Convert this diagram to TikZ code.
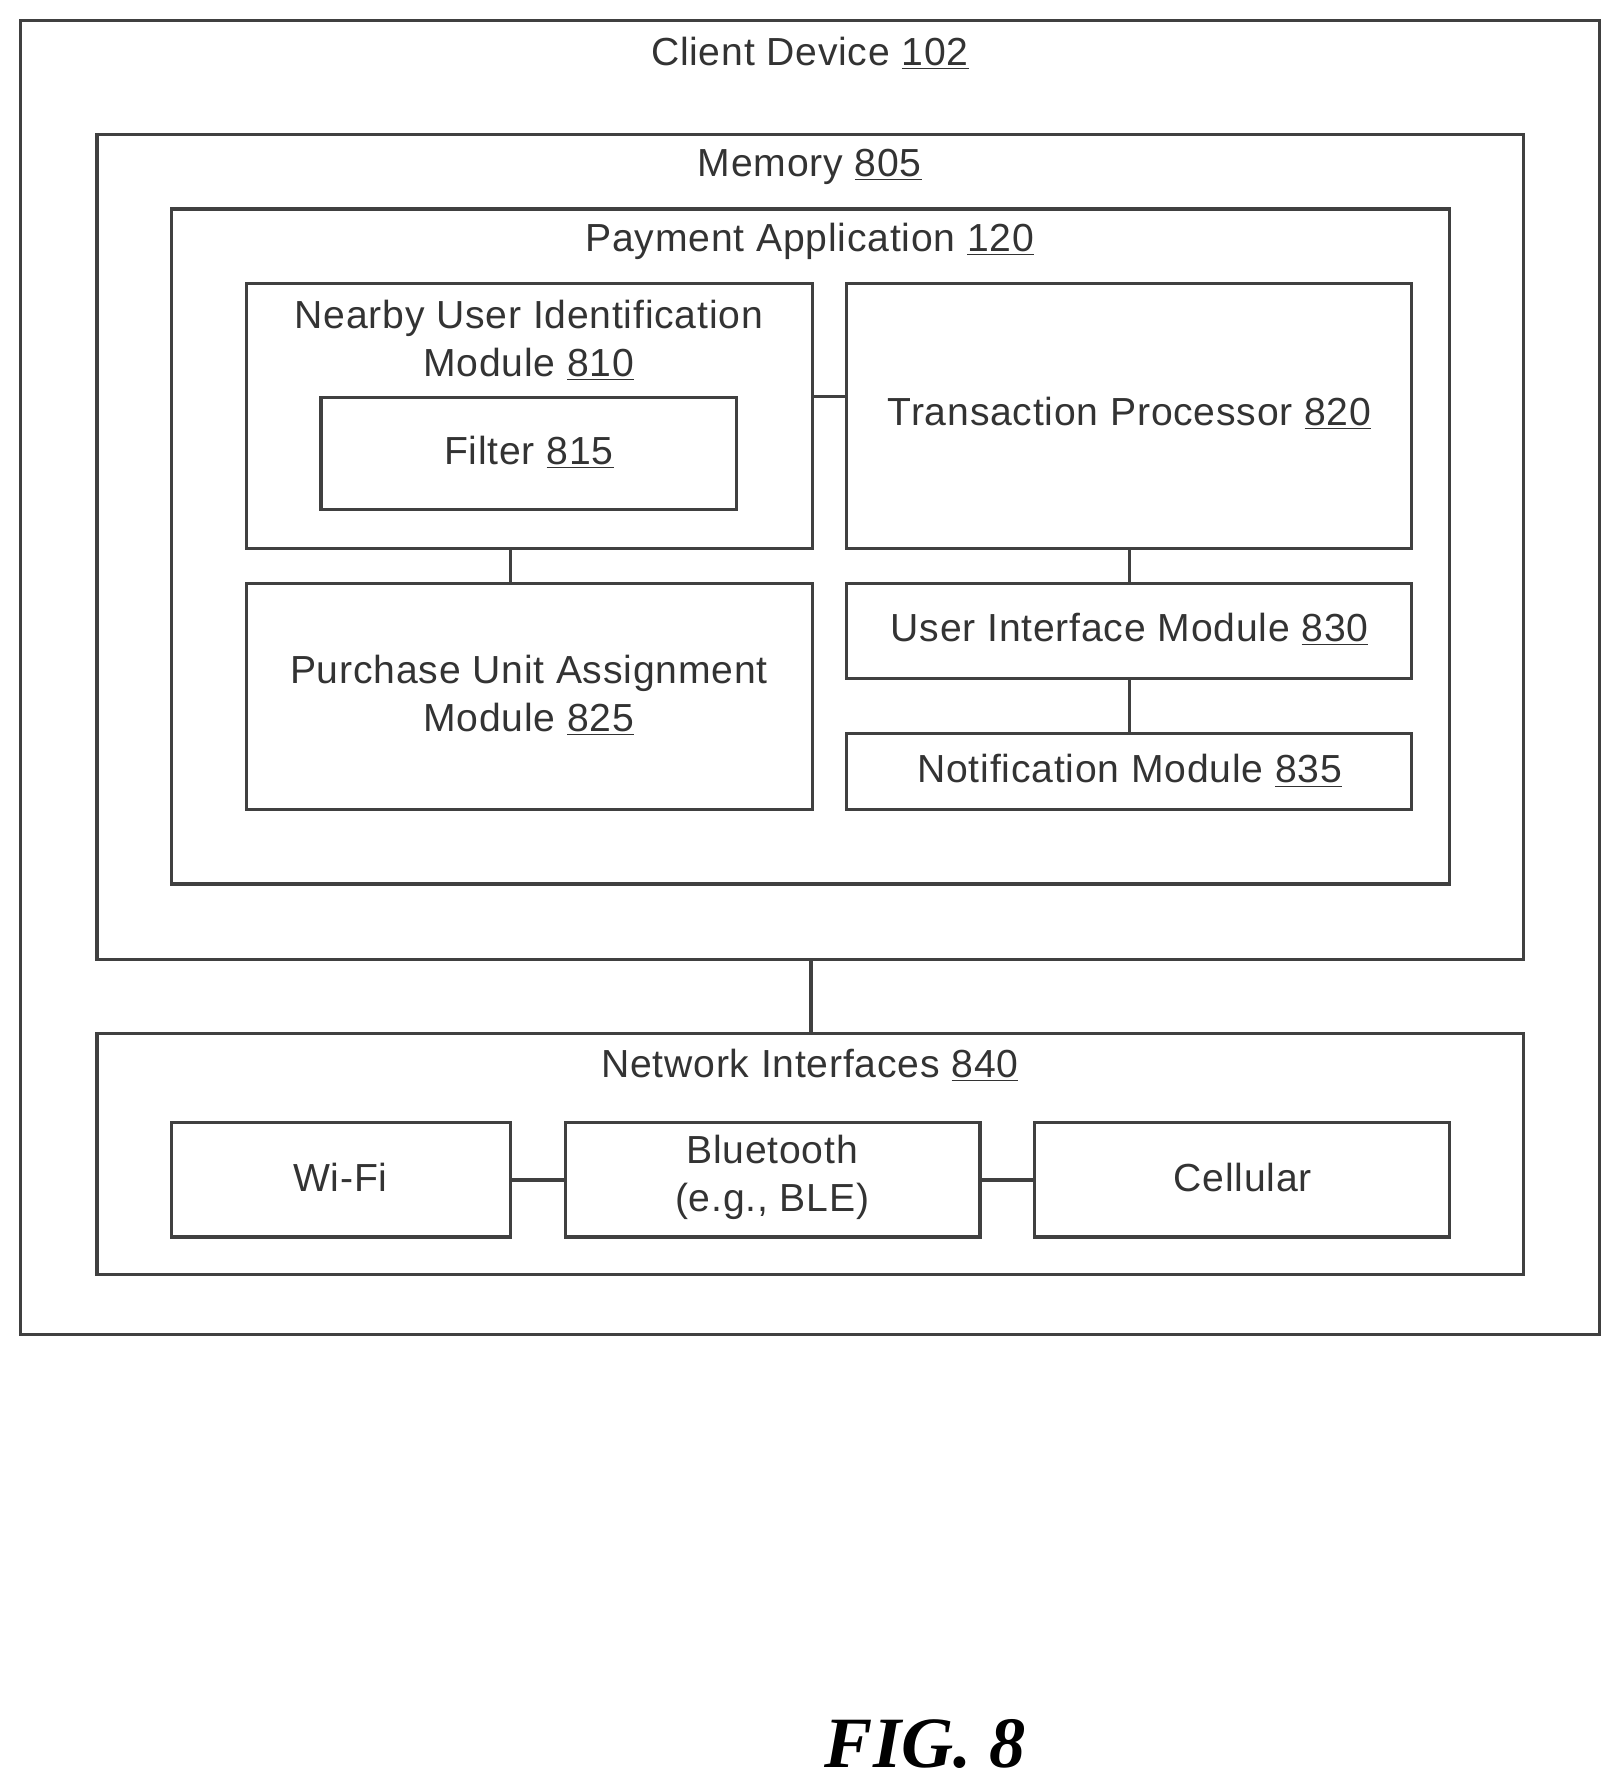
\documentclass[tikz,border=0pt]{standalone}
\usepackage{fontspec}
\setmainfont{Liberation Sans}[LetterSpace=2]
\newfontfamily\figfont{Liberation Serif}
\usetikzlibrary{positioning}
\tikzset{
  box/.style={draw=black!75,line width=1.6pt,rectangle,inner sep=0pt},
  lbl/.style={font=\fontsize{19.5}{22}\selectfont,text=black!80,align=center},
  link/.style={draw=black!75,line width=1.6pt}
}
\begin{document}
\begin{tikzpicture}[x=0.02cm,y=-0.02cm]
\useasboundingbox (0,0) rectangle (1420,1568);

\begin{scope}
% outer boxes
\draw[box] (18,18) rectangle (1400,1168);
\node[lbl] (client) at (709,47) {Client Device \underline{102}};
\draw[box] (85,118) rectangle (1334,840);
\node[lbl] (mem) at (709,146) {Memory \underline{805}};
\draw[box] (150,183) rectangle (1269,774);
\node[lbl] (pay) at (709,211) {Payment Application \underline{120}};

% modules
\draw[box] (216,248) rectangle (711,480);
\node[lbl] (nuim) at (463,298) {Nearby User Identification\\[2pt]Module \underline{810}};
\draw[box] (281,348) rectangle (645,446);
\node[lbl] (filter) at (463,396) {Filter \underline{815}};
\draw[box] (741,248) rectangle (1236,480);
\node[lbl] (tp) at (989,362) {Transaction Processor \underline{820}};
\draw[box] (216,511) rectangle (711,709);
\node[lbl] (puam) at (463,609) {Purchase Unit Assignment\\[2pt]Module \underline{825}};
\draw[box] (741,511) rectangle (1236,594);
\node[lbl] (uim) at (989,551) {User Interface Module \underline{830}};
\draw[box] (741,642) rectangle (1236,709);
\node[lbl] (notif) at (989,675) {Notification Module \underline{835}};

% network interfaces
\draw[box] (85,905) rectangle (1334,1116);
\node[lbl] (net) at (709,933) {Network Interfaces \underline{840}};
\draw[box] (150,983) rectangle (447,1083);
\node[lbl] (wifi) at (298,1031) {Wi-Fi};
\draw[box] (495,983) rectangle (858,1083);
\node[lbl] (bt) at (676,1031) {Bluetooth\\[2pt](e.g., BLE)};
\draw[box] (906,983) rectangle (1269,1083);
\node[lbl] (cell) at (1088,1031) {Cellular};

% connectors
\draw[link] (711,347) -- (741,347);
\draw[link] (447,480) -- (447,511);
\draw[link] (989,480) -- (989,511);
\draw[link] (989,594) -- (989,642);
\draw[link] (710,840) -- (710,905);
\draw[link] (447,1033) -- (495,1033);
\draw[link] (858,1033) -- (906,1033);

\node[font=\figfont\bfseries\itshape\fontsize{36}{40}\selectfont] (fig) at (810,1527) {FIG. 8};
\end{scope}

\end{tikzpicture}
\end{document}
